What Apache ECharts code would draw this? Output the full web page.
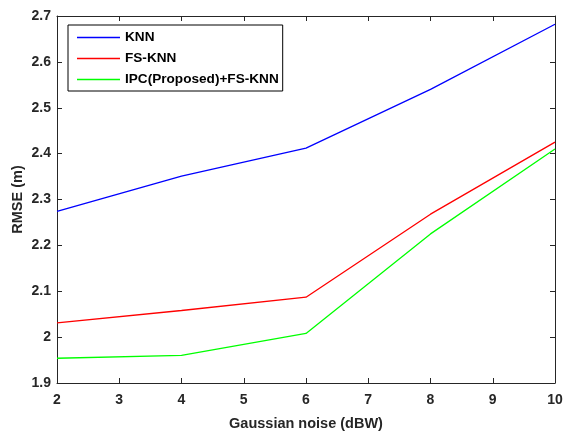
<!DOCTYPE html>
<html><head><meta charset="utf-8">
<script src="https://cdn.jsdelivr.net/npm/echarts@6/dist/echarts.min.js"></script>
<style>html,body{margin:0;padding:0;background:#fff}#c{width:564px;height:432px}</style>
</head><body><div id="c"></div>
<script>
const xValues = [2, 4, 6, 8, 10];
const knn = [2.274, 2.351, 2.412, 2.540, 2.682];
const fsKnn = [2.031, 2.058, 2.087, 2.268, 2.425];
const ipcFsKnn = [1.954, 1.960, 2.008, 2.225, 2.410];
const seriesNames = ['KNN', 'FS-KNN', 'IPC(Proposed)+FS-KNN'];
const seriesColors = ['#0000ff', '#ff0000', '#00ff00'];
const xLabel = 'Gaussian noise (dBW)';
const yLabel = 'RMSE (m)';

const chart = echarts.init(document.getElementById('c'), null, {renderer: 'canvas'});
const axisCol = '#262626';
const font = 'Liberation Sans, Arial, sans-serif';
const mk = (d) => xValues.map((x, i) => [x, d[i]]);
const datasets = [knn, fsKnn, ipcFsKnn];
chart.setOption({
  backgroundColor: '#fff',
  animation: false,
  grid: {left: 57, right: 9, top: 16, bottom: 49, containLabel: false, outerBoundsMode: 'none'},
  legend: {
    orient: 'vertical', left: 68, top: 25,
    padding: [4, 4, 3, 9],
    itemGap: 4, itemWidth: 43, itemHeight: 1.5, icon: 'rect',
    borderColor: '#000', borderWidth: 1, backgroundColor: '#fff',
    textStyle: {fontFamily: font, fontWeight: 'bold', fontSize: 13.6, color: '#000', lineHeight: 17},
    data: seriesNames
  },
  xAxis: [{
    type: 'value', min: 2, max: 10, interval: 1,
    name: xLabel, nameLocation: 'middle', nameGap: 33, nameMoveOverlap: false,
    nameTextStyle: {fontFamily: font, fontWeight: 'bold', fontSize: 14.5, color: axisCol},
    axisLine: {lineStyle: {color: axisCol, width: 1}},
    axisTick: {inside: true, length: 5, lineStyle: {color: axisCol}},
    axisLabel: {fontFamily: font, fontWeight: 'bold', fontSize: 14, color: axisCol, margin: 10},
    splitLine: {show: false}
  }, {
    type: 'value', min: 2, max: 10, interval: 1, position: 'top',
    axisLine: {show: true, lineStyle: {color: axisCol, width: 1}},
    axisTick: {inside: true, length: 5, lineStyle: {color: axisCol}},
    axisLabel: {show: false}, splitLine: {show: false}
  }],
  yAxis: [{
    type: 'value', min: 1.9, max: 2.7, interval: 0.1,
    name: yLabel, nameLocation: 'middle', nameGap: 32, nameMoveOverlap: false,
    nameTextStyle: {fontFamily: font, fontWeight: 'bold', fontSize: 14.5, color: axisCol},
    axisLine: {show: true, lineStyle: {color: axisCol, width: 1}},
    axisTick: {show: true, inside: true, length: 5, lineStyle: {color: axisCol}},
    axisLabel: {fontFamily: font, fontWeight: 'bold', fontSize: 14, color: axisCol, margin: 6,
      formatter: v => String(Math.round(v * 10) / 10)},
    splitLine: {show: false}
  }, {
    type: 'value', min: 1.9, max: 2.7, interval: 0.1, position: 'right',
    axisLine: {show: true, lineStyle: {color: axisCol, width: 1}},
    axisTick: {show: true, inside: true, length: 5, lineStyle: {color: axisCol}},
    axisLabel: {show: false}, splitLine: {show: false}
  }],
  series: seriesNames.map((n, i) => ({
    name: n, type: 'line', data: mk(datasets[i]),
    symbol: 'none', color: seriesColors[i],
    lineStyle: {color: seriesColors[i], width: 1.3}
  }))
});
</script></body></html>
